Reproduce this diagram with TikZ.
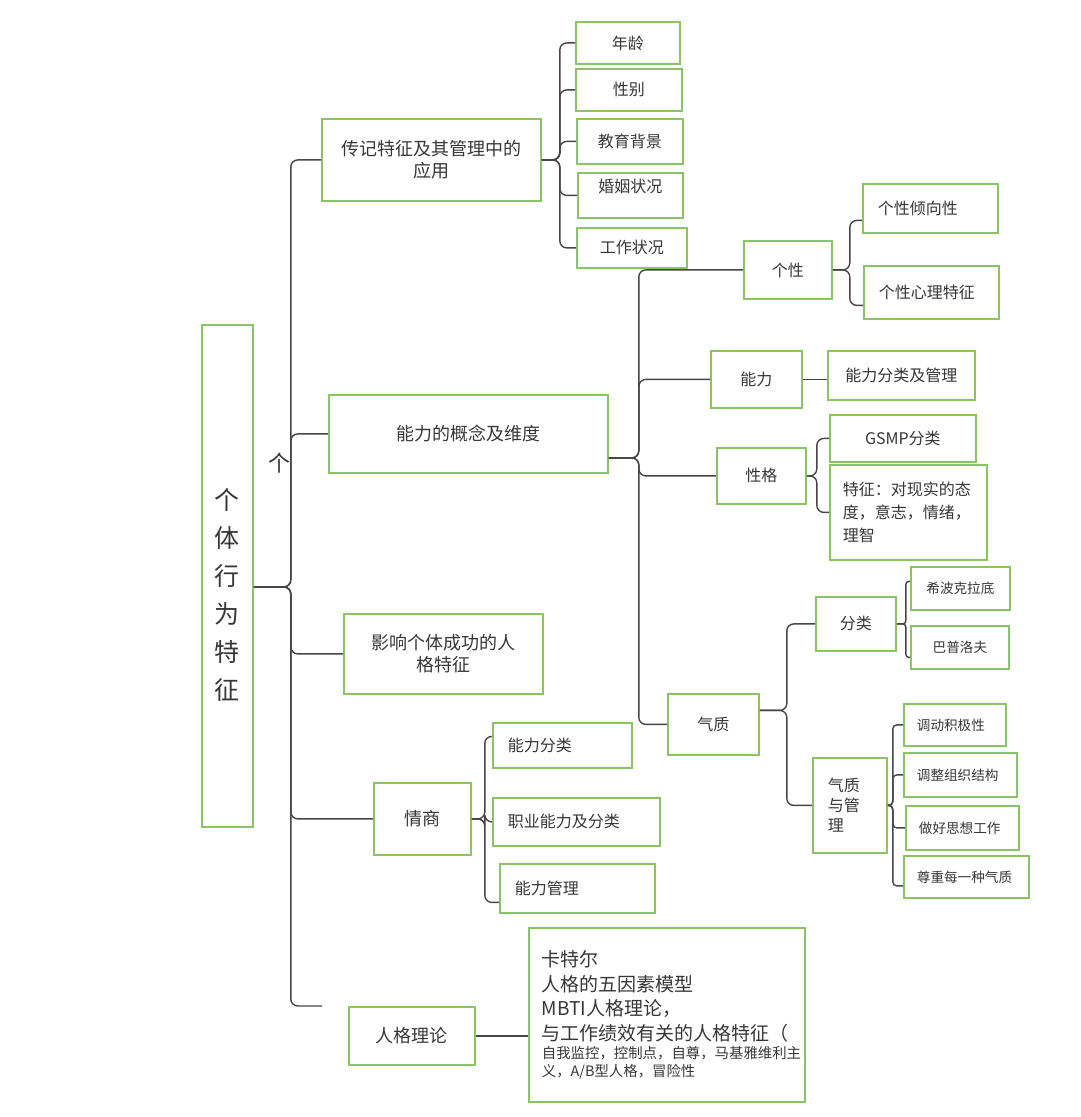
\documentclass[tikz,border=0pt]{standalone}
\usepackage{fontspec}
\setmainfont{Noto Sans CJK SC}
\definecolor{boxgreen}{RGB}{138,196,100}
\definecolor{txt}{RGB}{55,55,55}
\definecolor{linec}{RGB}{70,70,70}
\begin{document}
\begin{tikzpicture}[x=1pt,y=-1pt,
 box/.style={draw=boxgreen, line width=1.8pt, anchor=north west, inner sep=0pt, text=txt, align=center},
 sz/.style 2 args={minimum width=#1pt, minimum height=#2pt},
 fA/.style={font=\fontsize{18}{22}\selectfont},
 fB/.style={font=\fontsize{16}{20}\selectfont},
 fC/.style={font=\fontsize{13.6}{17}\selectfont},
 lft/.style={align=left, text width=#1pt, inner xsep=15pt},
 conn/.style={draw=linec, line width=1.4pt, rounded corners=7pt},
]
\fill[white] (0,0) rectangle (1080,1117);
\useasboundingbox (0,0) rectangle (1080,1117);

% root
\node[box,sz={51}{502}] (root) at (201,324) {\raisebox{-21pt}[\height][\depth]{\fontsize{25}{38}\selectfont\begin{tabular}{@{}c@{}}个\\体\\行\\为\\特\\征\end{tabular}}};
\node[font=\fontsize{22}{26}\selectfont, text=txt, inner sep=0pt] (stray) at (279,463) {个};

% level 1
\node[box,fA,sz={219}{82}] (bio) at (321,118) {传记特征及其管理中的\\应用};
\node[box,fA,sz={279}{78}] (abil) at (328,394) {能力的概念及维度};
\node[box,fA,sz={199}{80}] (succ) at (343,613) {影响个体成功的人\\格特征};
\node[box,fA,sz={97}{72}] (eq) at (373,782) {情商};
\node[box,fA,sz={126}{58}] (theo) at (348,1006) {人格理论};
\coordinate (theoin) at (322,1006);

% biography children
\node[box,fB,sz={104}{42}] (age) at (575,21) {年龄};
\node[box,fB,sz={106}{42}] (sex) at (575,68) {性别};
\node[box,fB,sz={106}{45}] (edu) at (576,118) {教育背景};
\node[box,fB,sz={105}{45}] (mar) at (577,172) {\raisebox{9pt}[\height][\depth]{婚姻状况}};
\node[box,fB,sz={110}{40}] (job) at (576,227) {工作状况};

% ability children
\node[box,fB,sz={88}{58}] (pers) at (743,240) {个性};
\node[box,fB,sz={91}{57}] (cap) at (710,350) {能力};
\node[box,fB,sz={89}{56}] (char) at (716,447) {性格};
\node[box,fB,sz={91}{61}] (temp) at (667,693) {气质};

\node[box,fB,lft=105,sz={135}{49}] (ptend) at (862,183) {个性倾向性};
\node[box,fB,lft=105,sz={135}{53}] (ppsy) at (863,265) {个性心理特征};

\node[box,fB,sz={147}{49}] (capm) at (827,350) {能力分类及管理};

\node[box,fB,sz={146}{47}] (gsmp) at (829,414) {GSMP分类};
\node[box,lft=131,inner xsep=13pt,sz={157}{95},font=\fontsize{16}{23}\selectfont] (feat) at (829,464) {特征：对现实的态\\度，意志，情绪，\\理智};

\node[box,fB,sz={80}{54}] (tcls) at (815,596) {分类};
\node[box,lft=44,sz={74}{95},font=\fontsize{16}{20}\selectfont] (tman) at (812,757) {气质\\与管\\理};

\node[box,fC,sz={99}{43}] (hip) at (910,566) {希波克拉底};
\node[box,fC,sz={98}{43}] (pav) at (910,625) {巴普洛夫};

\node[box,fC,lft=76,inner xsep=13pt,sz={102}{42}] (t1) at (903,703) {调动积极性};
\node[box,fC,lft=87,inner xsep=13pt,sz={113}{44}] (t2) at (903,752) {调整组织结构};
\node[box,fC,lft=87,inner xsep=13pt,sz={113}{44}] (t3) at (905,805) {做好思想工作};
\node[box,fC,lft=99,inner xsep=13pt,sz={125}{42}] (t4) at (903,855) {尊重每一种气质};

% EQ children
\node[box,fB,lft=109,sz={139}{45}] (e1) at (492,722) {能力分类};
\node[box,fB,lft=137,sz={167}{48}] (e2) at (492,797) {职业能力及分类};
\node[box,fB,lft=125,sz={155}{49}] (e3) at (499,863) {能力管理};

% theory child
\node[box,lft=250,inner xsep=13pt,sz={276}{174}] (big) at (528,927) {{\fontsize{19}{24.5}\selectfont 卡特尔\\人格的五因素模型\\MBTI人格理论，\\与工作绩效有关的人格特征（\par}{\fontsize{14.4}{18}\selectfont 自我监控，控制点，自尊，马基雅维利主\\义，A/B型人格，冒险性\par}};

% connectors
\foreach \c in {bio,abil,succ,eq,theoin}
  \draw[conn] ([yshift=-11pt]root.east) -- ++(37,0) |- (\c.west);
\foreach \c in {age,sex,edu,mar,job}
  \draw[conn] (bio.east) -- ++(18,0) |- (\c.west);
\foreach \c in {pers,cap,char,temp}
  \draw[conn] ([yshift=-24pt]abil.east) -- ++(30,0) |- (\c.west);
\draw[conn] (pers.east) -- ++(17,0) |- ([yshift=-12pt]ptend.west);
\draw[conn] (pers.east) -- ++(17,0) |- ([yshift=-13pt]ppsy.west);
\draw[conn] (cap.east) -- (cap.east -| capm.west);
\foreach \c in {gsmp,feat}
  \draw[conn] (char.east) -- ++(10,0) |- (\c.west);
\foreach \c in {tcls,tman}
  \draw[conn] ([yshift=14pt]temp.east) -- ++(27,0) |- (\c.west);
\draw[conn,rounded corners=3pt] (tcls.east) -- ++(9,0) |- ([yshift=7pt]hip.west);
\draw[conn,rounded corners=3pt] (tcls.east) -- ++(9,0) |- ([yshift=-10pt]pav.west);
\foreach \c in {t1,t2,t3}
  \draw[conn,rounded corners=4pt] (tman.east) -- ++(5,0) |- (\c.west);
\draw[conn,rounded corners=4pt] (tman.east) -- ++(5,0) |- ([yshift=-9pt]t4.west);
\draw[conn] (eq.east) -- ++(13,0) |- ([yshift=9pt]e1.west);
\draw[conn] (eq.east) -- ++(13,0) |- (e2.west);
\draw[conn] (eq.east) -- ++(13,0) |- ([yshift=-14pt]e3.west);
\draw[conn] (theo.east) -- (theo.east -| big.west);
\end{tikzpicture}
\end{document}
